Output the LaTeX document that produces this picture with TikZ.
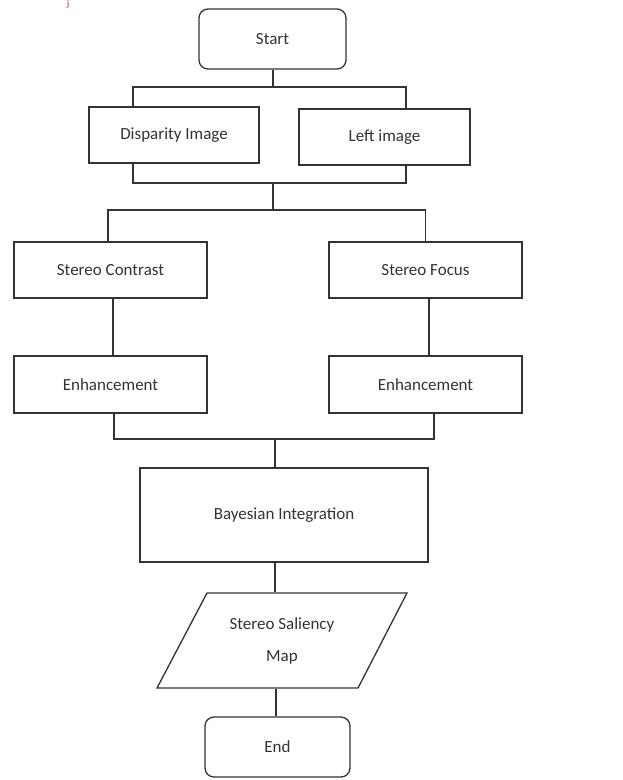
\documentclass[tikz,border=0pt]{standalone}
\usepackage{fontspec}
\setmainfont{Carlito}
\newfontfamily\capfont{Liberation Serif}
\usetikzlibrary{positioning,calc}
\definecolor{ink}{HTML}{333333}
\definecolor{capred}{HTML}{8B1A1A}
\begin{document}
\begin{tikzpicture}[x=1pt,y=-1pt,
  box/.style={draw=ink,line width=1.3pt,rectangle,inner sep=0pt,text=ink,font=\fontsize{17}{20}\selectfont},
  term/.style={box,rounded corners=9pt},
  conn/.style={draw=ink,line width=1.3pt}]
\useasboundingbox[fill=white] (0,0) rectangle (622,780);
\node[text=capred,font=\capfont\fontsize{9}{10}\selectfont,anchor=north,inner sep=0pt] (cap) at (68,0.5) {j};
% nodes
\node[term,minimum width=147pt,minimum height=60pt] (start) at (272.5,39) {Start};
\node[box,minimum width=170pt,minimum height=56pt] (disp) at (174,135) {Disparity Image};
\node[box,minimum width=171pt,minimum height=56pt] (left) at (384.5,137) {Left image};
\node[box,minimum width=193pt,minimum height=56pt] (sc) at (110.5,270) {Stereo Contrast};
\node[box,minimum width=193pt,minimum height=56pt] (sf) at (425.5,270) {Stereo Focus};
\node[box,minimum width=193pt,minimum height=57pt] (e1) at (110.5,384.5) {Enhancement};
\node[box,minimum width=193pt,minimum height=57pt] (e2) at (425.5,384.5) {Enhancement};
\node[box,minimum width=288pt,minimum height=94pt] (bay) at (284,515) {Bayesian Integration};
\node[box,draw=none,minimum width=200pt,minimum height=95pt,align=center,font=\fontsize{17}{32}\selectfont] (map) at (282,640.5) {Stereo Saliency\\Map};
\draw[conn] (207,593) -- (407,593) -- (358,688) -- (157,688) -- cycle;
\node[term,minimum width=145pt,minimum height=60pt] (end) at (277.5,747) {End};
% junctions
\coordinate (j1) at (273,87);
\coordinate (j2) at (273,183);
\coordinate (j3) at (273,210);
\coordinate (j4) at (275,439);
% connectors
\draw[conn] (j1 |- start.south) -- (j1);
\draw[conn] (j1) -| ([xshift=-41pt]disp.north);
\draw[conn] (j1) -| ([xshift=21.5pt]left.north);
\draw[conn] ([xshift=-41pt]disp.south) |- (j2);
\draw[conn] ([xshift=21.5pt]left.south) |- (j2);
\draw[conn] (j2) -- (j3);
\draw[conn] (j3) -| ([xshift=-2.5pt]sc.north);
\draw[conn] (j3) -| (sf.north);
\draw[conn] ([xshift=2.5pt]sc.south) -- ([xshift=2.5pt]e1.north);
\draw[conn] ([xshift=3.5pt]sf.south) -- ([xshift=3.5pt]e2.north);
\draw[conn] ([xshift=3.5pt]e1.south) |- (j4);
\draw[conn] ([xshift=8.5pt]e2.south) |- (j4);
\draw[conn] (j4) -- (j4 |- bay.north);
\draw[conn] (j4 |- bay.south) -- (j4 |- map.north);
\draw[conn] ([xshift=-6pt]map.south) -- ([xshift=-6pt]map.south |- end.north);
\end{tikzpicture}
\end{document}
